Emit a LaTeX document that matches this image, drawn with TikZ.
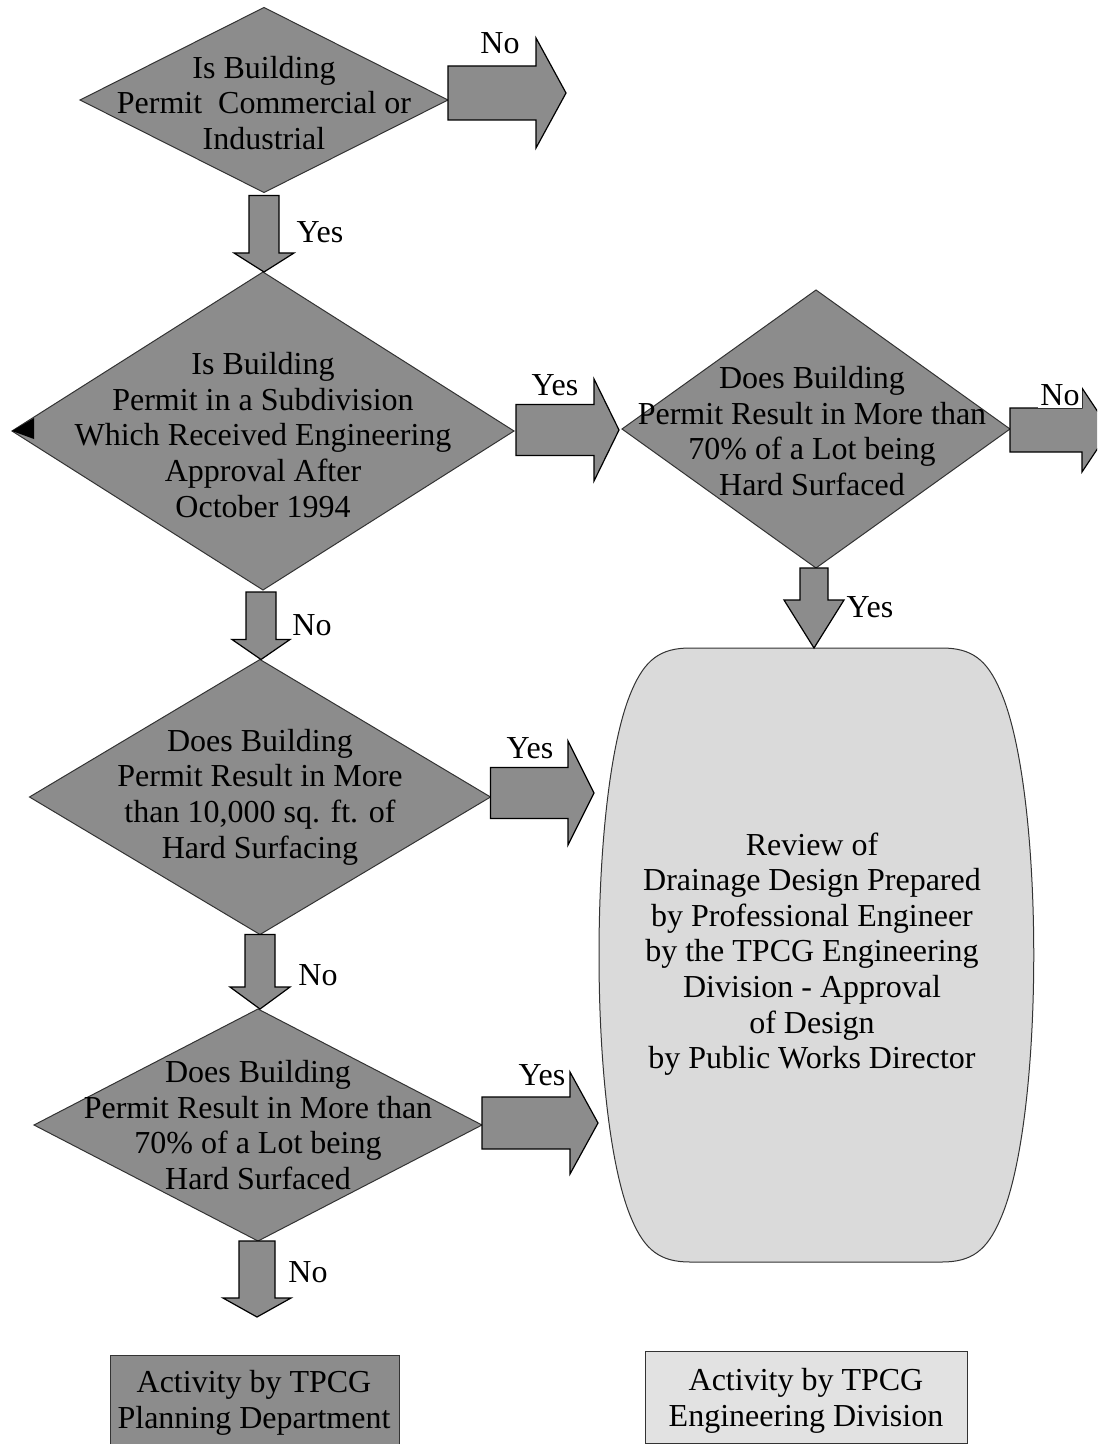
\documentclass[tikz,border=0pt]{standalone}
\usepackage{fontspec}
\setmainfont{Liberation Serif}
\usetikzlibrary{shapes.geometric,calc}
\definecolor{darkg}{RGB}{140,140,140}
\definecolor{lightg}{RGB}{218,218,218}
\definecolor{legg}{RGB}{226,226,226}
\tikzset{
  dia/.style={diamond, draw=black!80, line width=0.5pt, fill=darkg, inner sep=0pt, outer sep=0pt},
  dtext/.style={align=center, font=\fontsize{16}{17.8}\selectfont, inner sep=0pt, text=black},
  blk/.style={draw=black, line width=0.6pt, fill=darkg},
  lbl/.style={font=\fontsize{16}{18}\selectfont, inner sep=1pt},
  lblw/.style={font=\fontsize{16}{18}\selectfont, inner sep=1pt, fill=white}
}
% vertical block arrow: start, end, body half width, head half width, head length
\newcommand\vblock[5]{%
  \draw[blk] let \p1=(#1), \p2=(#2) in
    (\x1-#3,\y1) -- (\x1+#3,\y1) -- (\x1+#3,\y2+#5) -- (\x1+#4,\y2+#5) -- (\x1,\y2)
    -- (\x1-#4,\y2+#5) -- (\x1-#3,\y2+#5) -- cycle;}
% horizontal block arrow: start, end, body half height, head half height, head length
\newcommand\hblock[5]{%
  \draw[blk] let \p1=(#1), \p2=(#2) in
    (\x1,\y2+#3) -- (\x2-#5,\y2+#3) -- (\x2-#5,\y2+#4) -- (\x2,\y2)
    -- (\x2-#5,\y2-#4) -- (\x2-#5,\y2-#3) -- (\x1,\y2-#3) -- cycle;}
\begin{document}
\begin{tikzpicture}[x=0.5pt,y=-0.5pt]
\path[use as bounding box] (0,0) rectangle (1097,1444);
\clip (0,0) rectangle (1097,1444);

% diamonds
\node[dia, minimum width=184pt, minimum height=92.5pt] (d1) at (264,100) {};
\node[dia, minimum width=251pt, minimum height=159pt] (d2) at (263,431) {};
\node[dia, minimum width=194pt, minimum height=139pt] (d3) at (816,429) {};
\node[dia, minimum width=230.5pt, minimum height=137.5pt] (d4) at (260,797) {};
\node[dia, minimum width=224pt, minimum height=116pt] (d5) at (258,1125) {};

% small black mark at left tip of d2
\fill[black] (d2.west) -- (34,418) -- (34,439) -- cycle;

% review box
\draw[draw=black!80, line width=0.5pt, fill=lightg]
  (690,648) -- (942,648) .. controls (972,648) and (987,660) .. (1000,690)
  .. controls (1045,790) and (1045,1120) .. (1000,1220)
  .. controls (987,1250) and (972,1262) .. (942,1262) -- (690,1262)
  .. controls (660,1262) and (645,1250) .. (632,1220)
  .. controls (588,1120) and (588,790) .. (632,690)
  .. controls (645,660) and (660,648) .. (690,648) -- cycle;
\node[dtext] (rev) at (812,954) {Review of\\Drainage Design Prepared\\by Professional Engineer\\by the TPCG Engineering\\Division - Approval\\of Design\\by Public Works Director};

% free ends
\coordinate (e1) at (566,93);
\coordinate (e3) at (1110,430);
\coordinate (e4) at (594,793);
\coordinate (e5) at (598,1123);
\coordinate (e5d) at (257,1317);
\coordinate (revtop) at (814,648);

% block arrows
\hblock{d1.east}{e1}{13.5pt}{27.5pt}{15pt}
\vblock{$(d1.south)+(0,3)$}{d2.north}{7.5pt}{15pt}{9.5pt}
\hblock{$(d2.east)+(2,0)$}{$(d3.west)+(-3,1)$}{12.75pt}{25.5pt}{12.5pt}
\hblock{d3.east}{e3}{11pt}{21pt}{14pt}
\vblock{$(d3.south)+(-2,0)$}{revtop}{7pt}{15pt}{24pt}
\vblock{$(d2.south)+(-2,2)$}{d4.north}{7.5pt}{14.5pt}{10pt}
\hblock{d4.east}{e4}{12.75pt}{26pt}{13pt}
\vblock{$(d4.south)+(0,0)$}{d5.north}{7.5pt}{15pt}{11pt}
\hblock{d5.east}{e5}{13pt}{25.5pt}{14pt}
\vblock{$(d5.south)+(-1,0)$}{e5d}{9pt}{17pt}{9.5pt}

% diamond texts
\node[dtext] (t1) at (264,103) {Is Building\\Permit\ \ Commercial or\\Industrial};
\node[dtext] (t2) at (263,435) {Is Building\\Permit in a Subdivision\\Which Received Engineering\\Approval After\\October 1994};
\node[dtext] (t3) at (812,431) {Does Building\\Permit Result in More than\\70\% of a Lot being\\Hard Surfaced};
\node[dtext] (t4) at (260,797) {Does Building\\Permit Result in More\\than 10,000 sq. ft. of\\Hard Surfacing};
\node[dtext] (t5) at (258,1125) {Does Building\\Permit Result in More than\\70\% of a Lot being\\Hard Surfaced};

% labels
\node[lbl] (l1) at (500,43) {No};
\node[lbl] (l2) at (320,232) {Yes};
\node[lbl] (l3) at (555,385) {Yes};
\node[lblw] (l4) at (1060,395) {No};
\node[lbl] (l5) at (870,607) {Yes};
\node[lbl] (l6) at (312,625) {No};
\node[lbl] (l7) at (530,748) {Yes};
\node[lbl] (l8) at (318,975) {No};
\node[lblw] (l9) at (542,1075) {Yes};
\node[lbl] (l10) at (308,1272) {No};

% legend
\draw[draw=black!80, line width=0.5pt, fill=darkg] (110,1355) rectangle (399,1446);
\node[dtext] (leg1) at (254,1403) {Activity by TPCG\\Planning Department};
\draw[draw=black!80, line width=0.5pt, fill=legg] (645,1351) rectangle (967,1443);
\node[dtext] (leg2) at (806,1401) {Activity by TPCG\\Engineering Division};
\end{tikzpicture}
\end{document}
